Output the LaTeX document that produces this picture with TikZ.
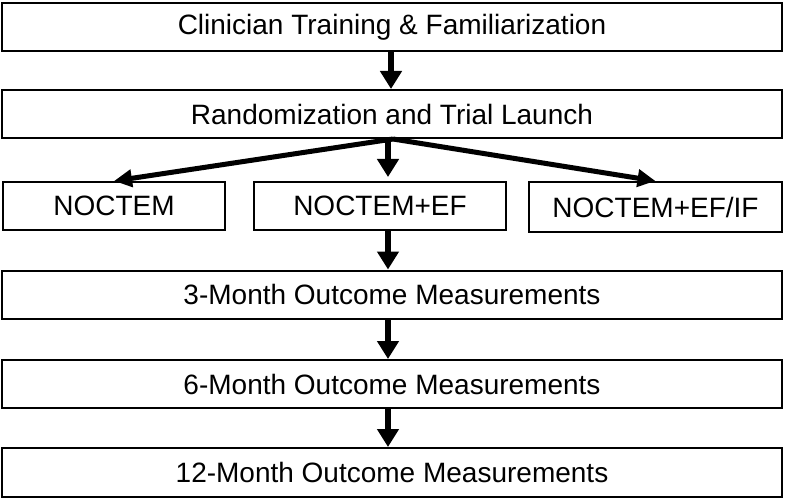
\documentclass[tikz,border=0pt]{standalone}
\usepackage{fontspec}
\setmainfont{Liberation Sans}
\usetikzlibrary{arrows.meta}
\begin{document}
\begin{tikzpicture}[x=1pt,y=-1pt,
  box/.style={draw, line width=2pt, rectangle, inner sep=0pt, fill=white,
    font=\fontsize{28pt}{30pt}\selectfont},
  arr/.style={line width=6pt, -{Triangle[length=18pt,width=21pt]}},
  darr/.style={line width=5pt, -{Triangle[length=18pt,width=17pt]}}]
\useasboundingbox (0,0) rectangle (787,500);
\node[box, minimum width=780pt, minimum height=48pt] (b1) at (392,27) {Clinician Training \& Familiarization};
\node[box, minimum width=780pt, minimum height=48pt] (b2) at (392,114) {Randomization and Trial Launch};
\node[box, minimum width=222pt, minimum height=48pt] (n1) at (114,206) {NOCTEM};
\node[box, minimum width=252pt, minimum height=48pt] (n2) at (380,206) {NOCTEM+EF};
\node[box, minimum width=253pt, minimum height=50pt] (n3) at (655.5,207) {NOCTEM+EF/IF};
\node[box, minimum width=780pt, minimum height=48pt] (m3) at (392,294.5) {3-Month Outcome Measurements};
\node[box, minimum width=780pt, minimum height=48pt] (m6) at (392,384) {6-Month Outcome Measurements};
\node[box, minimum width=780pt, minimum height=49pt] (m12) at (392,472.5) {12-Month Outcome Measurements};
\coordinate (ax) at (388,0);
\coordinate (sx) at (393,0);
\coordinate (fx) at (391,0);
\draw[arr] (b1.south -| fx) -- (b2.north -| fx);
\draw[darr] (b2.south -| sx) -- (n1.north);
\draw[darr] (b2.south -| sx) -- (n3.north);
\draw[arr, shorten >=4pt] (b2.south -| ax) -- (n2.north -| ax);
\draw[arr] (n2.south -| ax) -- (m3.north -| ax);
\draw[arr] (m3.south -| ax) -- (m6.north -| ax);
\draw[arr] (m6.south -| ax) -- (m12.north -| ax);
\end{tikzpicture}
\end{document}
